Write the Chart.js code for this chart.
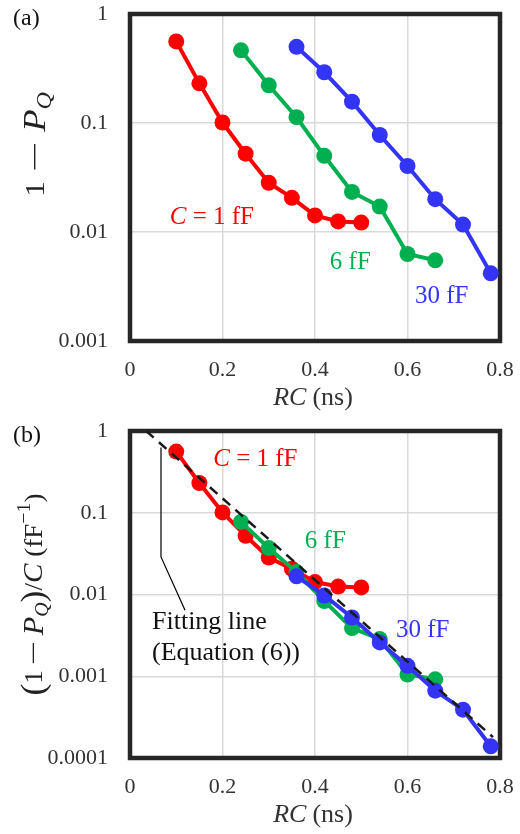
<!DOCTYPE html>
<html>
<head>
<meta charset="utf-8">
<script src="https://cdn.jsdelivr.net/npm/chart.js@4"></script>
<style>
    body { margin: 0; background: #fff; }
    canvas { display: block; }
</style>
</head>
<body>
<canvas id="chartA" width="520" height="417"></canvas>
<canvas id="chartB" width="520" height="417"></canvas>
<script>
// RC values (ns)
const rc1 = [0.10, 0.15, 0.20, 0.25, 0.30, 0.35, 0.40, 0.45, 0.50];
const rc6 = [0.24, 0.30, 0.36, 0.42, 0.48, 0.54, 0.60, 0.66];
const rc30 = [0.36, 0.42, 0.48, 0.54, 0.60, 0.66, 0.72, 0.78];

// (a) 1 - P_Q
const err1 = [0.56, 0.231, 0.101, 0.0523, 0.0283, 0.0206, 0.0142, 0.0125, 0.0122];
const err6 = [0.464, 0.222, 0.113, 0.050, 0.0233, 0.0171, 0.00628, 0.0055];
const err30 = [0.50, 0.292, 0.157, 0.0776, 0.0403, 0.020, 0.0117, 0.00418];

// (b) (1 - P_Q) / C
const norm1 = [0.56, 0.231, 0.101, 0.0523, 0.0283, 0.0206, 0.0142, 0.0125, 0.0122];
const norm6 = [0.0773, 0.037, 0.0188, 0.00833, 0.00388, 0.00285, 0.00105, 0.000917];
const norm30 = [0.0167, 0.00973, 0.00523, 0.00259, 0.00134, 0.000667, 0.00039, 0.000139];

// fitting line (Equation (6)) and its pointer
const fitX = [0.035, 0.785];
const fitY = [1, 0.00018];
const leaderX = [0.067, 0.067, 0.119];
const leaderY = [0.63, 0.0288, 0.0064];

const xTicks = [0, 0.2, 0.4, 0.6, 0.8];
const yTicksA = [1, 0.1, 0.01, 0.001];
const yTicksB = [1, 0.1, 0.01, 0.001, 0.0001];

const RED = "#ff0000";
const GREEN = "#00b050";
const BLUE = "#3434f6";
const SERIF = "'Liberation Serif', 'DejaVu Serif', serif";

const pts = (xs, ys) => xs.map((x, i) => ({ x, y: ys[i] }));

const series = (data, color) => ({
    data,
    borderColor: color,
    backgroundColor: color,
    borderWidth: 4,
    pointRadius: 8,
    pointHoverRadius: 8,
    pointBorderWidth: 0,
    tension: 0
});

// draw text made of runs (italic / sub / sup / own size / stretch / gap)
function drawRuns(ctx, runs, x, y, size, color, align, fit) {
    const sizeOf = (r) => r.size || (r.sub || r.sup ? Math.round(size * 0.68) : size);
    const fontOf = (r) => (r.italic ? "italic " : "") + sizeOf(r) + "px " + SERIF;
    const widthOf = (r) => { ctx.font = fontOf(r); return ctx.measureText(r.t).width * (r.stretch || 1) + (r.gap || 0); };
    let total = 0;
    runs.forEach(r => { total += widthOf(r); });
    const k = fit ? fit / total : 1;
    ctx.save();
    ctx.translate(x, y);
    ctx.scale(k, 1);
    let cx = align === "center" ? -total / 2 : 0;
    ctx.fillStyle = color;
    ctx.textBaseline = "middle";
    ctx.textAlign = "left";
    runs.forEach(r => {
        const w = widthOf(r);
        let dy = r.sub ? size * 0.3 : (r.sup ? -size * 0.38 : 0);
        ctx.save();
        ctx.translate(cx, dy);
        ctx.scale(r.stretch || 1, 1);
        ctx.font = fontOf(r);
        ctx.fillText(r.t, 0, 0);
        ctx.restore();
        cx += w;
    });
    ctx.restore();
}

function makeChart(id, datasets, yTicks, yMin, panel, yTitle, labels) {
    const decor = {
        id: "decor",
        beforeDatasetsDraw(chart) {
            const { ctx, chartArea: a } = chart;
            ctx.save();
            ctx.strokeStyle = "#262626";
            ctx.lineWidth = 4.5;
            ctx.strokeRect(a.left, a.top, a.right - a.left, a.bottom - a.top);
            ctx.restore();
        },
        afterDraw(chart) {
            const { ctx, chartArea: a, scales } = chart;
            ctx.save();
            drawRuns(ctx, [{ t: panel }], 13, 19, 24, "#111", "left");
            drawRuns(ctx, [{ t: "RC", italic: true, gap: 6 }, { t: "(ns)" }],
                (a.left + a.right) / 2 - 2, a.bottom + 57, 26, "#333", "center");

            ctx.save();
            ctx.translate(yTitle.x, (a.top + a.bottom) / 2 + yTitle.dy);
            ctx.rotate(-Math.PI / 2);
            drawRuns(ctx, yTitle.runs, 0, 0, yTitle.size, "#222", "center", yTitle.len);
            ctx.restore();

            labels.forEach(l => {
                const px = scales.x.getPixelForValue(l.x);
                const py = scales.y.getPixelForValue(l.y);
                drawRuns(ctx, l.runs, px, py, l.size || 25, l.color, "left");
            });
            ctx.restore();
        }
    };

    return new Chart(document.getElementById(id), {
        type: "line",
        data: { datasets },
        plugins: [decor],
        options: {
            responsive: false,
            animation: false,
            events: [],
            layout: { padding: { top: 14, right: 20, left: 0, bottom: 0 } },
            plugins: { legend: { display: false }, tooltip: { enabled: false } },
            scales: {
                x: {
                    type: "linear",
                    min: 0,
                    max: 0.8,
                    afterBuildTicks: (s) => { s.ticks = xTicks.map(v => ({ value: v })); },
                    afterFit: (s) => {
                        s.height = 76;
                        s.paddingLeft = 0; s.paddingRight = 0;
                    },
                    grid: { color: "#d9d9d9", lineWidth: 1.5, drawTicks: false },
                    border: { display: false },
                    ticks: {
                        padding: 16,
                        color: "#333",
                        font: { family: SERIF, size: 22 },
                        maxRotation: 0,
                        callback: (v) => String(v)
                    }
                },
                y: {
                    type: "logarithmic",
                    min: yMin,
                    max: 1,
                    afterBuildTicks: (s) => { s.ticks = yTicks.map(v => ({ value: v })); },
                    afterFit: (s) => {
                        s.width = 130;
                        s.paddingTop = 0; s.paddingBottom = 0;
                    },
                    grid: { color: "#d9d9d9", lineWidth: 1.5, drawTicks: false },
                    border: { display: false },
                    ticks: {
                        padding: 22,
                        color: "#333",
                        font: { family: SERIF, size: 22 },
                        callback: (v) => String(v)
                    }
                }
            }
        }
    });
}

const cLabel = (x, y, color) => ({
    x, y, color,
    runs: [{ t: "C", italic: true }, { t: " = 1 fF" }]
});

makeChart("chartA", [
    series(pts(rc1, err1), RED),
    series(pts(rc6, err6), GREEN),
    series(pts(rc30, err30), BLUE)
], yTicksA, 0.001, "(a)", {
    x: 37, dy: -33, size: 28, len: 105,
    runs: [
        { t: "1", gap: 8 }, { t: "−", stretch: 1.7, gap: 8 },
        { t: "P", italic: true, size: 32 }, { t: "Q", italic: true, sub: true, size: 21 }
    ]
}, [
    cLabel(0.086, 0.0135, RED),
    { x: 0.432, y: 0.0053, color: GREEN, runs: [{ t: "6 fF" }] },
    { x: 0.616, y: 0.00254, color: BLUE, runs: [{ t: "30 fF" }] }
]);

makeChart("chartB", [
    {
        data: pts(fitX, fitY),
        borderColor: "#1a1a1a", borderWidth: 2.5, borderDash: [10, 7],
        pointRadius: 0, tension: 0
    },
    series(pts(rc30, norm30), BLUE),
    series(pts(rc6, norm6), GREEN),
    series(pts(rc1, norm1), RED),
    {
        data: pts(leaderX, leaderY),
        borderColor: "#000", borderWidth: 1.2, pointRadius: 0, tension: 0
    }
], yTicksB, 0.0001, "(b)", {
    x: 35, dy: 0, size: 26, len: 202,
    runs: [
        { t: "(", size: 34 }, { t: "1", gap: 5 }, { t: "−", stretch: 1.6, gap: 5 },
        { t: "P", italic: true, size: 29 }, { t: "Q", italic: true, sub: true, size: 19 },
        { t: ")", size: 34 }, { t: "/" }, { t: "C", italic: true, size: 28 },
        { t: " (fF" }, { t: "−1", sup: true, size: 19 }, { t: ")" }
    ]
}, [
    cLabel(0.18, 0.449, RED),
    { x: 0.378, y: 0.044, color: GREEN, runs: [{ t: "6 fF" }] },
    { x: 0.575, y: 0.00363, color: BLUE, runs: [{ t: "30 fF" }] },
    { x: 0.0476, y: 0.0046, color: "#111", size: 26, runs: [{ t: "Fitting line" }] },
    { x: 0.0476, y: 0.0019, color: "#111", size: 26, runs: [{ t: "(Equation (6))" }] }
]);
</script>
</body>
</html>
